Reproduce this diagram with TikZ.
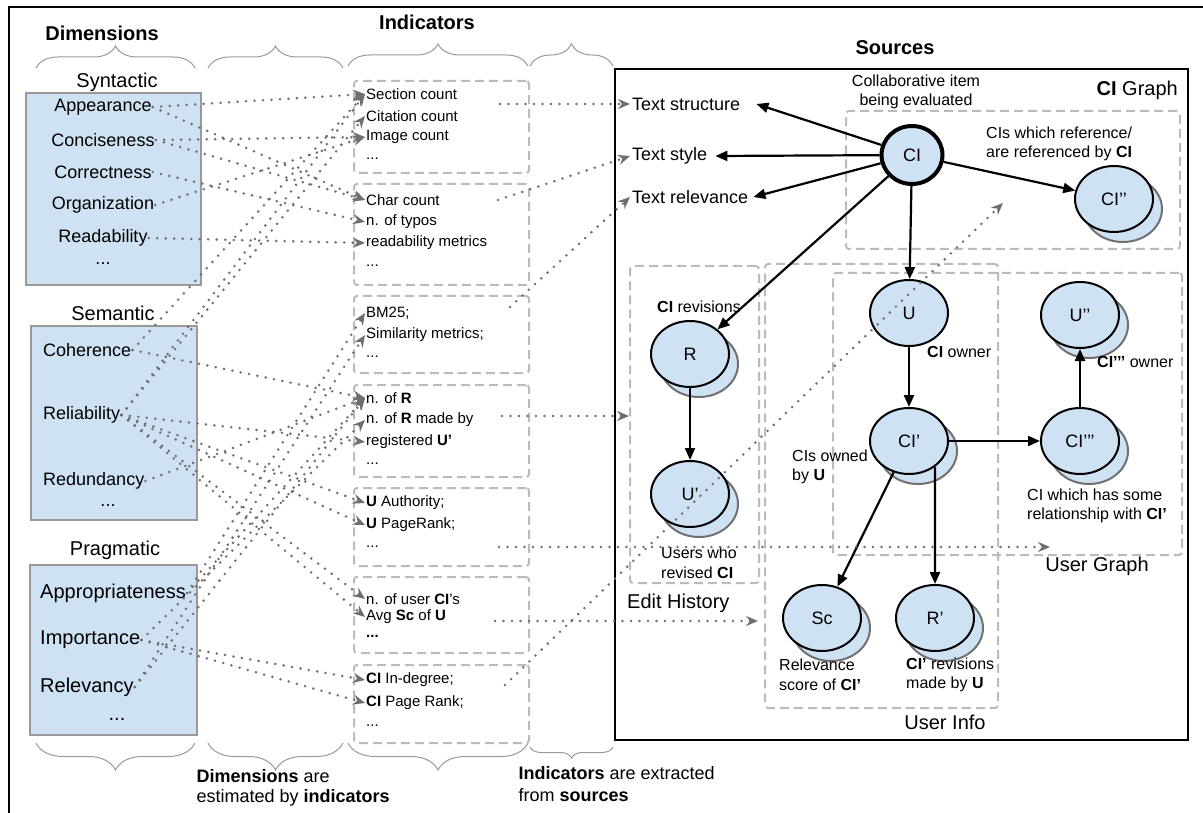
\documentclass[tikz,border=0pt]{standalone}
\usepackage{fontspec}
\setmainfont{Liberation Sans}
\usetikzlibrary{positioning, shapes.geometric, arrows.meta, decorations.pathreplacing, shadows}
\definecolor{dimblue}{HTML}{CFE2F3}
\definecolor{dimgray}{HTML}{999999}
\definecolor{boxgray}{HTML}{BBBBBB}
\definecolor{dotgray}{HTML}{6E6E6E}
\definecolor{shadgray}{HTML}{707070}
\tikzset{
	dimbox/.style={draw=dimgray, line width=2pt, fill=dimblue, inner sep=0pt}
}
\tikzset{
	dashbox/.style={draw=boxgray, line width=2pt, dash pattern=on 9pt off 5pt, rounded corners=3pt, inner sep=0pt}
}
\tikzset{
	headtext/.style={font=\fontsize{20}{24}\selectfont\bfseries},
	grouptext/.style={font=\fontsize{20}{24}\selectfont},
	dimtext/.style={font=\fontsize{18}{22}\selectfont, inner sep=1pt},
	pragtext/.style={font=\fontsize{20}{24}\selectfont, inner sep=1pt},
	indtext/.style={font=\fontsize{15}{18}\selectfont, inner sep=1pt, anchor=west},
	srctext/.style={font=\fontsize{18}{22}\selectfont, inner sep=2pt, anchor=west},
	notetext/.style={font=\fontsize{16}{19.5}\selectfont, align=left, inner sep=1pt},
	labeltext/.style={font=\fontsize{20}{24}\selectfont, inner sep=1pt}
}
\tikzset{
	plainnode/.style={ellipse, draw=black, line width=2pt, fill=dimblue, minimum width=78pt, minimum height=66pt, inner sep=0pt,
		font=\fontsize{18}{22}\selectfont},
	srcnode/.style={plainnode,
		copy shadow={shadow xshift=9pt, shadow yshift=-10pt, draw=shadgray, fill=dimblue, line width=2pt}},
	cinode/.style={plainnode, line width=4pt, minimum width=61pt, minimum height=58pt}
}
\tikzset{
	solidarr/.style={-{Triangle[length=12pt,width=10pt]}, line width=2.2pt},
	dotarr/.style={-{Stealth[length=12pt,width=10pt,inset=4pt]}, draw=dotgray, line width=2.8pt, line cap=round, dash pattern=on 0pt off 8.5pt}
}
\tikzset{
	upbrace/.style={draw=dimgray, line width=1pt, decorate, decoration={brace, amplitude=#1}}
}

\begin{document}
\begin{tikzpicture}[x=1pt, y=-1pt]
	\useasboundingbox (0,0) rectangle (1203,813);
	\draw[line width=2pt] (9,813) -- (9,7) -- (1203,7);

	\node[headtext] (hdim) at (102,33) {Dimensions};
	\node[headtext] (hind) at (427,22) {Indicators};
	\node[headtext] (hsrc) at (895,48) {Sources};

	% braces
	\begin{scope}
		\draw[upbrace=22pt] (36,68) -- (195,68);
		\draw[upbrace=22pt] (208,68) -- (343,68);
		\draw[upbrace=22pt] (348,66) -- (528,66);
		\draw[upbrace=22pt] (530,66) -- (613,66);
		\draw[upbrace=27pt] (195,743) -- (36,743);
		\draw[upbrace=27pt] (343,743) -- (208,743);
		\draw[upbrace=27pt] (528,743) -- (348,743);
		\draw[upbrace=11pt] (613,747) -- (530,747);
	\end{scope}

	\node[anchor=west, align=left, font=\fontsize{18}{20}\selectfont] (capdim) at (193,788) {\textbf{Dimensions} are\\estimated by \textbf{indicators}};
	\node[anchor=west, align=left, font=\fontsize{18}{22}\selectfont] (capind) at (515,784) {\textbf{Indicators} are extracted\\from \textbf{sources}};

	% dimensions
	\begin{scope}
		\node[dimbox, minimum width=175pt, minimum height=192pt] (synbox) at (113.5,189) {};
		\node[dimbox, minimum width=166pt, minimum height=194pt] (sembox) at (114,423) {};
		\node[dimbox, minimum width=167pt, minimum height=170pt] (prabox) at (113.5,650) {};

		\node[grouptext] (syn) at (117,82) {Syntactic};
		\node[grouptext] (sem) at (113,313) {Semantic};
		\node[grouptext] (pra) at (115,550) {Pragmatic};

		\node[dimtext] (appear) at (103,107) {Appearance};
		\node[dimtext] (concise) at (103,140) {Conciseness};
		\node[dimtext] (correct) at (103,172) {Correctness};
		\node[dimtext] (organiz) at (103,205) {Organization};
		\node[dimtext] (readab) at (103,238) {Readability};
		\node[dimtext] (syndots) at (103,264) {...};

		\node[dimtext, anchor=west] (coher) at (42,350) {Coherence};
		\node[dimtext, anchor=west] (reliab) at (42,415) {Reliability};
		\node[dimtext, anchor=west] (redund) at (42,481) {Redundancy};
		\node[dimtext] (semdots) at (108,506) {...};

		\node[pragtext, anchor=west] (approp) at (39,593) {Appropriateness};
		\node[pragtext, anchor=west] (import) at (39,640) {Importance};
		\node[pragtext, anchor=west] (relev) at (39,687) {Relevancy};
		\node[pragtext] (pradots) at (117,719) {...};
	\end{scope}

	% indicators
	\begin{scope}
		\node[dashbox, minimum width=175pt, minimum height=92pt] (ib1) at (441.5,127) {};
		\node[dashbox, minimum width=175pt, minimum height=101pt] (ib2) at (441.5,234.5) {};
		\node[dashbox, minimum width=175pt, minimum height=77pt] (ib3) at (441.5,334.5) {};
		\node[dashbox, minimum width=175pt, minimum height=92pt] (ib4) at (441.5,431) {};
		\node[dashbox, minimum width=175pt, minimum height=78pt] (ib5) at (441.5,527) {};
		\node[dashbox, minimum width=175pt, minimum height=76pt] (ib6) at (441.5,615) {};
		\node[dashbox, minimum width=175pt, minimum height=78pt] (ib7) at (441.5,704) {};

		\node[indtext] (secc) at (365,94) {Section count};
		\node[indtext] (citc) at (365,116) {Citation count};
		\node[indtext] (imgc) at (365,137) {Image count};
		\node[indtext] (dots1) at (365,159) {...};

		\node[indtext] (charc) at (365,200) {Char count};
		\node[indtext] (typos) at (365,222) {n. of typos};
		\node[indtext] (readm) at (365,243) {readability metrics};
		\node[indtext] (dots2) at (365,266) {...};

		\node[indtext] (bm25) at (365,313) {BM25;};
		\node[indtext] (simm) at (365,335) {Similarity metrics;};
		\node[indtext] (dots3) at (365,357) {...};

		\node[indtext] (nofr) at (365,398) {n. of \textbf{R}};
		\node[indtext] (nofrm) at (365,420) {n. of \textbf{R} made by};
		\node[indtext] (regu) at (365,442) {registered \textbf{U’}};
		\node[indtext] (dots4) at (365,464) {...};

		\node[indtext] (uauth) at (365,503) {\textbf{U} Authority;};
		\node[indtext] (upr) at (365,525) {\textbf{U} PageRank;};
		\node[indtext] (dots5) at (365,547) {...};

		\node[indtext] (nuser) at (365,599) {n. of user \textbf{CI}’s};
		\node[indtext] (avgsc) at (365,617) {Avg \textbf{Sc} of \textbf{U}};
		\node[indtext] (dots6) at (365,636) {\textbf{...}};

		\node[indtext] (cideg) at (365,680) {\textbf{CI} In-degree;};
		\node[indtext] (cipr) at (365,703) {\textbf{CI} Page Rank;};
		\node[indtext] (dots7) at (365,726) {...};
	\end{scope}

	% dimensions are estimated by indicators
	\draw[dotarr] (appear.east) -- (secc.west);
	\draw[dotarr] (appear.east) -- (charc.west);
	\draw[dotarr] (concise.east) -- (imgc.west);
	\draw[dotarr] (concise.east) -- (charc.west);
	\draw[dotarr] (correct.east) -- (typos.west);
	\draw[dotarr] (organiz.east) -- (imgc.west);
	\draw[dotarr] (readab.east) -- (readm.west);
	\draw[dotarr] (coher.east) -- (secc.west);
	\draw[dotarr] (coher.east) -- (nofr.west);
	\draw[dotarr] (reliab.east) -- (secc.west);
	\draw[dotarr] (reliab.east) -- (citc.west);
	\draw[dotarr] (reliab.east) -- (regu.west);
	\draw[dotarr] (reliab.east) -- (uauth.west);
	\draw[dotarr] (reliab.east) -- (upr.west);
	\draw[dotarr] (reliab.east) -- (nuser.west);
	\draw[dotarr] (reliab.east) -- (avgsc.west);
	\draw[dotarr] (redund.east) -- (nofr.west);
	\draw[dotarr] (approp.east) -- (bm25.west);
	\draw[dotarr] (approp.east) -- (nofr.west);
	\draw[dotarr] (import.east) -- (nofrm.west);
	\draw[dotarr] (import.east) -- (cideg.west);
	\draw[dotarr] (import.east) -- (cipr.west);
	\draw[dotarr] (relev.east) -- (simm.west);
	\draw[dotarr] (relev.east) -- (nofr.west);

	% sources
	\begin{scope}
		\node[draw=black, line width=2.5pt, minimum width=573pt, minimum height=671pt, inner sep=0pt] (srcbox) at (901.5,404.5) {};
		\node[dashbox, minimum width=334pt, minimum height=138pt] (cigbox) at (1013,180) {};
		\node[dashbox, minimum width=129pt, minimum height=317pt] (ehbox) at (694.5,424.5) {};
		\node[dashbox, minimum width=233pt, minimum height=444pt] (uibox) at (881.5,486) {};
		\node[dashbox, minimum width=349pt, minimum height=282pt] (ugbox) at (1007.5,414) {};

		\node[labeltext, anchor=east] (cigl) at (1179,90) {\textbf{CI} Graph};
		\node[labeltext, anchor=west] (ehl) at (626,603) {Edit History};
		\node[labeltext] (uil) at (945,722) {User Info};
		\node[labeltext] (ugl) at (1097,566) {User Graph};

		\node[srctext] (tstruct) at (630,104) {Text structure};
		\node[srctext] (tstyle) at (630,156) {Text style};
		\node[srctext] (trelev) at (630,197) {Text relevance};

		\node[cinode] (ci) at (912,155) {CI};
		\node[srcnode] (cipp) at (1114,199) {CI’’};
		\node[srcnode] (rr) at (690,354) {R};
		\node[srcnode] (up) at (690,494) {U’};
		\node[plainnode] (uu) at (909,313) {U};
		\node[srcnode] (cip) at (909,441) {CI’};
		\node[srcnode] (cippp) at (1080,441) {CI’’’};
		\node[srcnode] (upp) at (1080,315) {U’’};
		\node[srcnode] (sc) at (822,618) {Sc};
		\node[srcnode] (rp) at (935,618) {R’};

		\node[notetext, align=center] (collab) at (916,92) {Collaborative item\\being evaluated};
		\node[notetext, anchor=west] (refby) at (985,144) {CIs which reference/\\are referenced by \textbf{CI}};
		\node[notetext] (cirev) at (699,307) {\textbf{CI} revisions};
		\node[notetext, anchor=west] (usrrev) at (660,563) {Users who\\revised \textbf{CI}};
		\node[notetext, anchor=west] (ciown) at (926,352) {\textbf{CI} owner};
		\node[notetext, anchor=west] (cipppown) at (1096,362) {\textbf{CI’’’} owner};
		\node[notetext, anchor=west] (ownby) at (791,467) {CIs owned\\by \textbf{U}};
		\node[notetext, anchor=west] (relwith) at (1026,506) {CI which has some\\relationship with \textbf{CI’}};
		\node[notetext, anchor=west] (relsc) at (778,675) {Relevance\\score of \textbf{CI’}};
		\node[notetext, anchor=west] (cirevu) at (905,675) {\textbf{CI’} revisions\\made by \textbf{U}};

		\draw[solidarr] (ci) -- ([xshift=14pt]tstruct.east);
		\draw[solidarr] (ci) -- ([xshift=6pt]tstyle.east);
		\draw[solidarr] (ci) -- ([xshift=3pt]trelev.east);
		\draw[solidarr] (ci) -- (cipp);
		\draw[solidarr] (ci) -- (uu);
		\draw[solidarr] (ci) -- (rr);
		\draw[solidarr] (rr) -- (up);
		\draw[solidarr] (uu) -- (cip);
		\draw[solidarr] (cip) -- (cippp);
		\draw[solidarr] (cippp) -- (upp);
		\draw[solidarr] (cip) -- (sc);
		\draw[solidarr] (cip.-45) -- (rp.north);
	\end{scope}

	% indicators are extracted from sources
	\coordinate (s1) at (500,104);
	\coordinate (s2) at (498,200);
	\coordinate (s3) at (510,307);
	\coordinate (s4) at (502,416);
	\coordinate (s5) at (499,547);
	\coordinate (e5) at (1050,547);
	\coordinate (s6) at (495,621);
	\coordinate (s7) at (505,685);
	\coordinate (e7) at (1003,203);

	\draw[dotarr] (s1) -- (tstruct.west);
	\draw[dotarr] (s2) -- (tstyle.west);
	\draw[dotarr] (s3) -- (trelev.west);
	\draw[dotarr] (s4) -- (ehbox.west |- s4);
	\draw[dotarr] (s5) -- (e5);
	\draw[dotarr] (s6) -- ([xshift=-6pt]uibox.west |- s6);
	\draw[dotarr] (s7) -- (e7);

\end{tikzpicture}
\end{document}
